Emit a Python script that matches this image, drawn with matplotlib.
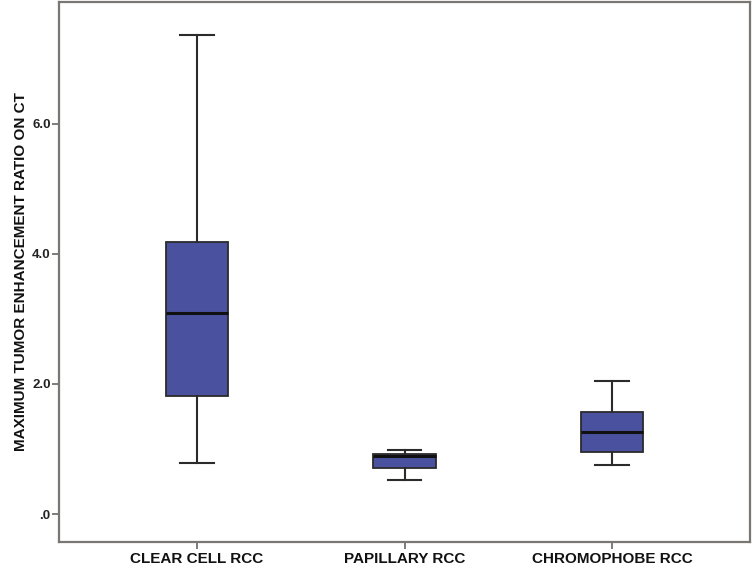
import matplotlib
matplotlib.use("Agg")
import matplotlib.pyplot as plt

categories = ["CLEAR CELL RCC", "PAPILLARY RCC", "CHROMOPHOBE RCC"]
whislo = [0.78, 0.52, 0.75]
q1 = [1.81, 0.71, 0.95]
med = [3.09, 0.89, 1.26]
q3 = [4.19, 0.92, 1.57]
whishi = [7.37, 0.98, 2.05]
yticks = [0.0, 2.0, 4.0, 6.0]
ytick_labels = [".0", "2.0", "4.0", "6.0"]

plt.rcParams['font.family'] = ['Liberation Sans', 'DejaVu Sans']

fig = plt.figure(figsize=(7.53, 5.69), dpi=100)
L, R, T, B = 59, 750, 1.5, 542
ax = fig.add_axes([L/753, 1-B/569, (R-L)/753, (B-T)/569])

stats = []
for i, c in enumerate(categories):
    stats.append(dict(label=c, whislo=whislo[i], q1=q1[i], med=med[i],
                      q3=q3[i], whishi=whishi[i], fliers=[]))

edge = "#2b2b2b"
ax.bxp(stats, positions=[1, 2, 3], widths=0.30, patch_artist=True,
       showfliers=False,
       boxprops=dict(facecolor="#4a52a0", edgecolor=edge, linewidth=1.3),
       medianprops=dict(color="#111111", linewidth=2.2),
       whiskerprops=dict(color=edge, linewidth=1.5),
       capprops=dict(color=edge, linewidth=1.5),
       capwidths=0.16)

ax.set_xlim(0.335, 3.665)
ax.set_ylim(-0.43, 7.88)
ax.set_yticks(yticks)
ax.set_yticklabels(ytick_labels, fontsize=9.5, fontweight='bold', color="#222222")
ax.set_xticks([1, 2, 3])
ax.set_xticklabels(categories, fontsize=11, fontweight='bold', color="#111111")
ax.tick_params(axis='both', color="#666666", width=1.2, length=5, direction='out')
ax.tick_params(axis='y', pad=1)
ax.tick_params(axis='x', pad=2)
for s in ax.spines.values():
    s.set_color("#7a7672")
    s.set_linewidth(1.6)
ax.set_ylabel("MAXIMUM TUMOR ENHANCEMENT RATIO ON CT", fontsize=11,
              fontweight='bold', color="#111111", labelpad=3)

fig.savefig("out.png", dpi=100)
